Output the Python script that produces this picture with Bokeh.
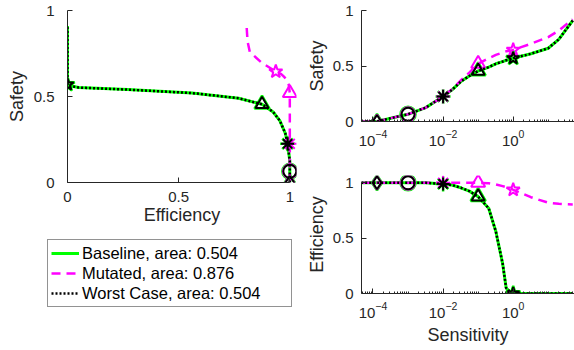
from bokeh.plotting import figure
from bokeh.layouts import row, column
from bokeh.models import (Range1d, FixedTicker, NumeralTickFormatter,
                          Legend, LegendItem, ColumnDataSource)
from bokeh.core.properties import field
from bokeh.embed import file_html
from bokeh.resources import INLINE

# ---------------- data ----------------
sensitivity = [4.6e-5, 1.3e-4, 3.2e-4, 1e-3, 3.2e-3, 1e-2, 1.8e-2, 3.2e-2, 5.6e-2,
               0.1, 0.2, 0.32, 0.5, 0.63, 0.9, 1.0, 3.2, 10, 20, 50]
baseline_safety = [0.0, 0.0, 0.03, 0.065, 0.125, 0.225, 0.285, 0.36, 0.41,
                   0.455, 0.49, 0.52, 0.54, 0.552, 0.565, 0.57, 0.61, 0.66, 0.74, 0.91]
baseline_eff = [1.0, 1.0, 1.0, 1.0, 1.0, 0.99, 0.98, 0.955, 0.925,
                0.875, 0.77, 0.56, 0.27, 0.05, 0.0, 0.0, 0.0, 0.0, 0.0, 0.0]
mutated_safety = [0.0, 0.0, 0.03, 0.065, 0.125, 0.225, 0.29, 0.37, 0.44,
                  0.52, 0.57, 0.60, 0.62, 0.632, 0.64, 0.645, 0.70, 0.76, 0.82, 0.92]
mutated_eff = [1.0, 1.0, 1.0, 1.0, 1.0, 1.0, 1.0, 1.0, 1.0,
               1.0, 0.995, 0.985, 0.97, 0.96, 0.945, 0.937, 0.87, 0.82, 0.81, 0.805]
worst_safety = list(baseline_safety)
worst_eff = list(baseline_eff)

marker_sens = [1.3e-4, 1e-3, 1e-2, 0.1, 1.0]
marker_types = ["diamond", "circle", "asterisk", "triangle", "star"]
baseline_marker_safety = [0.0, 0.065, 0.225, 0.455, 0.57]
baseline_marker_eff = [1.0, 1.0, 0.99, 0.875, 0.0]
mutated_marker_safety = [0.0, 0.065, 0.225, 0.52, 0.645]
mutated_marker_eff = [1.0, 1.0, 1.0, 1.0, 0.937]

legend_labels = ["Baseline, area: 0.504", "Mutated, area: 0.876", "Worst Case, area: 0.504"]
lin_ticks = [0, 0.5, 1]
log_ticks = [1e-4, 1e-2, 1]

# ---------------- styles ----------------
GREEN = "#00ff00"
MAGENTA = "#ff00ff"
BLACK = "#000000"
AX = "#262626"
FONT = "Liberation Sans"
TICK_FS = "15px"
LABEL_FS = "18px"

series = [
    dict(color=GREEN, width=3, dash="solid", msize=15, mwidth=2.5),
    dict(color=MAGENTA, width=2.5, dash="9 6", msize=14, mwidth=2),
    dict(color=BLACK, width=2.5, dash="2 2", msize=13, mwidth=2),
]
line_data = [
    (baseline_safety, baseline_eff),
    (mutated_safety, mutated_eff),
    (worst_safety, worst_eff),
]
marker_data = [
    (baseline_marker_safety, baseline_marker_eff),
    (mutated_marker_safety, mutated_marker_eff),
    (baseline_marker_safety, baseline_marker_eff),
]


def style(p):
    p.grid.visible = False
    p.outline_line_color = None
    p.background_fill_color = "white"
    p.border_fill_color = "white"
    for ax in p.axis:
        ax.axis_line_color = AX
        ax.axis_line_width = 1
        ax.major_tick_line_color = AX
        ax.minor_tick_line_color = AX
        ax.major_tick_in = 5
        ax.major_tick_out = 0
        ax.minor_tick_in = 2
        ax.minor_tick_out = 0
        ax.major_label_text_font = FONT
        ax.major_label_text_font_size = TICK_FS
        ax.major_label_text_color = AX
        ax.axis_label_text_font = FONT
        ax.axis_label_text_font_size = LABEL_FS
        ax.axis_label_text_font_style = "normal"
        ax.axis_label_text_color = AX


def draw(p, xs_lines, ys_lines, xs_marks, ys_marks):
    for i, s in enumerate(series):
        p.line(xs_lines[i], ys_lines[i], line_color=s["color"], line_width=s["width"],
               line_dash=s["dash"])
        src = ColumnDataSource(dict(x=xs_marks[i], y=ys_marks[i], m=marker_types))
        p.scatter("x", "y", marker=field("m"), source=src, size=s["msize"],
                  line_color=s["color"], line_width=s["mwidth"], fill_color=None)


# ---------------- left: safety vs efficiency ----------------
p1 = figure(width=300, height=232, output_backend="svg", toolbar_location=None,
            x_range=Range1d(0.0, 1.0301), y_range=Range1d(0.0, 1.0),
            min_border_left=67, min_border_right=4, min_border_top=10, min_border_bottom=50)
draw(p1,
     [d[1] for d in line_data], [d[0] for d in line_data],
     [d[1] for d in marker_data], [d[0] for d in marker_data])
style(p1)
for ax in (p1.xaxis[0], p1.yaxis[0]):
    ax.ticker = FixedTicker(ticks=lin_ticks)
    ax.formatter = NumeralTickFormatter(format="0.[0]")
    ax.minor_tick_line_color = None
p1.xaxis.bounds = (0, 1)
p1.yaxis.axis_label = "Safety"
p1.xaxis.axis_label = "Efficiency"
p1.yaxis.major_label_standoff = 13
p1.yaxis.axis_label_standoff = 4
p1.xaxis.major_label_standoff = 9
p1.xaxis.axis_label_standoff = 0

# ---------------- legend panel (own canvas under the left plot) ----------------
lp = figure(width=300, height=118, output_backend="svg", toolbar_location=None,
            x_range=Range1d(0, 1), y_range=Range1d(0, 1),
            x_axis_location=None, y_axis_location=None, min_border=0)
lp.grid.visible = False
lp.outline_line_color = None
lp.background_fill_color = "white"
lp.border_fill_color = "white"
items = []
for s, lab in zip(series, legend_labels):
    # drawn outside the visible range: only its legend swatch shows
    r = lp.line([2, 3], [2, 3], line_color=s["color"], line_width=s["width"],
                line_dash=s["dash"])
    items.append(LegendItem(label=lab, renderers=[r]))
legend = Legend(items=items, location=(47, 43), label_text_font=FONT,
                label_text_font_size="16.5px", label_text_color=BLACK,
                border_line_color=AX, border_line_width=1,
                background_fill_color="white", background_fill_alpha=1.0,
                padding=3, spacing=0, margin=0, label_height=20, glyph_height=20,
                glyph_width=28, label_standoff=3, label_width=206)
lp.add_layout(legend)

# ---------------- right: safety / efficiency vs sensitivity ----------------
log_start = -4.328
log_end = 1.749
xr = (10 ** log_start, 10 ** log_end)
minor = [k * 10.0 ** e for e in range(-5, 2) for k in range(1, 10)]

p2 = figure(width=274, height=165, output_backend="svg", toolbar_location=None,
            x_axis_type="log", x_range=Range1d(*xr), y_range=Range1d(0.0, 1.0),
            min_border_left=61, min_border_right=0, min_border_top=10, min_border_bottom=44)
draw(p2,
     [sensitivity] * 3, [d[0] for d in line_data],
     [marker_sens] * 3, [d[0] for d in marker_data])
style(p2)
p2.yaxis.axis_label = "Safety"

p3 = figure(width=274, height=185, output_backend="svg", toolbar_location=None,
            x_axis_type="log", x_range=Range1d(*xr), y_range=Range1d(0.0, 1.066),
            min_border_left=61, min_border_right=0, min_border_top=10, min_border_bottom=57)
draw(p3,
     [sensitivity] * 3, [d[1] for d in line_data],
     [marker_sens] * 3, [d[1] for d in marker_data])
style(p3)
p3.yaxis.axis_label = "Efficiency"
p3.xaxis.axis_label = "Sensitivity"

for p in (p2, p3):
    p.xaxis.ticker = FixedTicker(ticks=log_ticks, minor_ticks=minor)
    p.xaxis.major_label_standoff = 8
    p.xaxis.axis_label_standoff = 4
    p.yaxis.ticker = FixedTicker(ticks=lin_ticks)
    p.yaxis.formatter = NumeralTickFormatter(format="0.[0]")
    p.yaxis.minor_tick_line_color = None
    p.yaxis.bounds = (0, 1)
    p.yaxis.major_label_standoff = 8
    p.yaxis.axis_label_standoff = 3

layout = row(column(p1, row(lp)), column(p2, p3))
open("out.html", "w").write(file_html(layout, INLINE))
